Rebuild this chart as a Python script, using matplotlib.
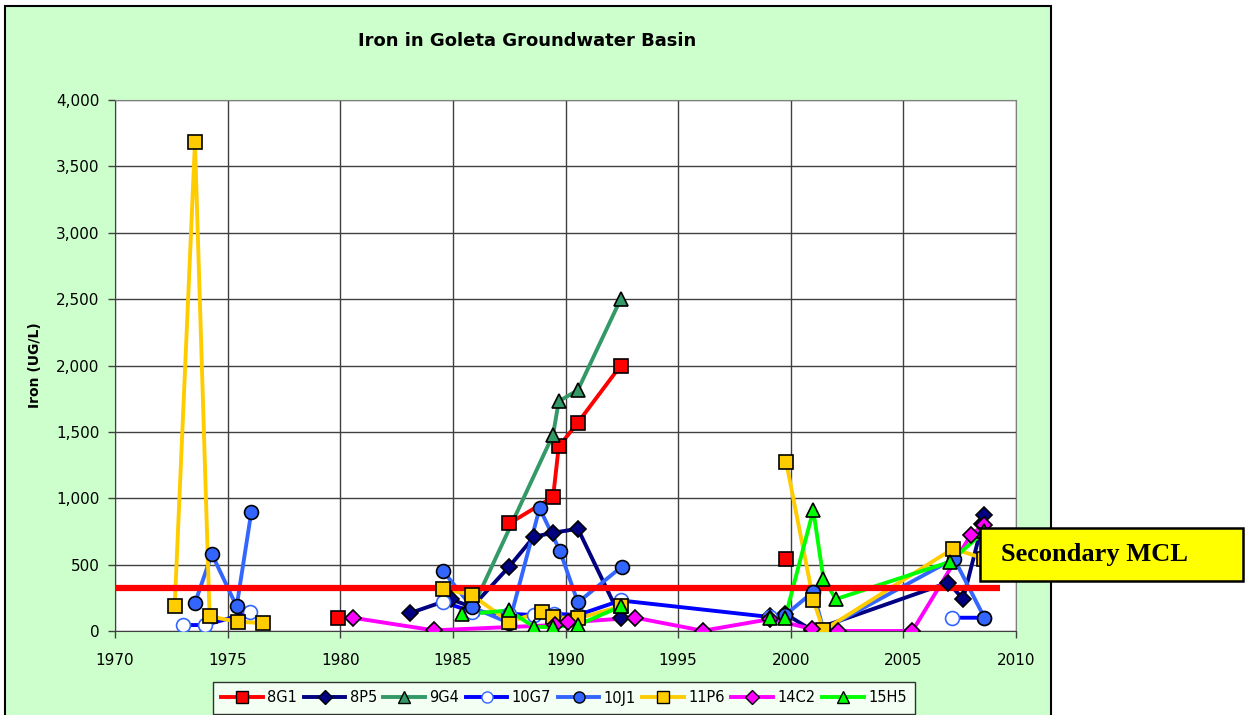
import numpy as np
import matplotlib
matplotlib.use("Agg")
import matplotlib.pyplot as plt
from matplotlib.patches import Rectangle
from matplotlib.lines import Line2D
from matplotlib.ticker import FuncFormatter

nan = np.nan

# ---------------- data (year, iron ug/L); nan = gap in series ----------------
g8G1_x = [1979.9, nan, 1987.5, 1989.45, 1989.7, 1990.55, 1992.45, nan, 1999.8]
g8G1_y = [100, nan, 810, 1010, 1390, 1570, 2000, nan, 540]

p8P5_x = [1983.1, 1984.9, 1985.85, 1987.5, 1988.6, 1989.45, 1990.55, 1992.45, nan,
          1999.1, 1999.75, 2000.95, 2007.0, 2007.65, 2008.5, 2008.6]
p8P5_y = [135, 240, 180, 485, 710, 740, 770, 100, nan,
          110, 130, 5, 365, 240, 805, 875]

g9G4_x = [1985.85, 1989.45, 1989.7, 1990.55, 1992.45]
g9G4_y = [165, 1480, 1730, 1815, 2500]

g10G7_x = [1973.0, 1974.0, 1976.0, nan, 1984.55, 1985.85, 1987.5, 1988.6, 1989.5,
           1990.55, 1992.45, 1999.1, 1999.75, nan, 2007.15, 2008.6]
g10G7_y = [45, 45, 140, nan, 220, 145, 130, 120, 130,
           120, 230, 105, 110, nan, 100, 100]

j10J1_x = [1973.55, 1974.3, 1975.4, 1976.05, nan, 1984.55, 1985.85, 1987.5, 1988.85,
           1989.75, 1990.55, 1992.5, nan, 1999.75, 2001.0, 2001.45, 2007.25, 2008.6]
j10J1_y = [210, 580, 185, 895, nan, 455, 180, 60, 925,
           605, 215, 485, nan, 120, 295, 10, 545, 100]

p11P6_x = [1972.65, 1973.55, 1974.2, 1975.45, 1976.55, nan, 1984.55, 1985.85, 1987.5,
           1988.95, 1989.45, 1990.55, 1992.45, nan, 1999.8, 2001.0, 2001.45, 2007.2, 2008.6]
p11P6_y = [185, 3680, 110, 70, 60, nan, 320, 270, 70,
           145, 105, 95, 185, nan, 1270, 235, 5, 620, 545]

c14C2_x = [1980.55, 1984.15, 1989.55, 1990.1, 1993.1, 1996.1, 1999.1, 2000.95,
           2002.1, 2005.4, 2008.0, 2008.6]
c14C2_y = [100, 5, 45, 65, 100, 2, 90, 15, 0, 0, 725, 800]

h15H5_x = [1985.4, 1987.5, 1988.6, 1989.45, 1990.55, 1992.45, nan, 1999.1, 1999.75,
           2001.0, 2001.45, 2002.0, 2007.05, 2008.6]
h15H5_y = [125, 155, 30, 30, 45, 185, nan, 100, 100, 910, 395, 240, 520, 750]

mcl_x = [1970, 2009.3]
mcl_y = [325, 325]

series_names = ["8G1", "8P5", "9G4", "10G7", "10J1", "11P6", "14C2", "15H5"]
series_x = [g8G1_x, p8P5_x, g9G4_x, g10G7_x, j10J1_x, p11P6_x, c14C2_x, h15H5_x]
series_y = [g8G1_y, p8P5_y, g9G4_y, g10G7_y, j10J1_y, p11P6_y, c14C2_y, h15H5_y]

x_ticks = [1970, 1975, 1980, 1985, 1990, 1995, 2000, 2005, 2010]
y_ticks = [0, 500, 1000, 1500, 2000, 2500, 3000, 3500, 4000]

# ---------------- styles ----------------
styles = {
    "8G1":  dict(lc="#FF0000", mk="s", mfc="#FF0000", mec="black", ms=10),
    "8P5":  dict(lc="#000080", mk="D", mfc="#000080", mec="black", ms=8.5),
    "9G4":  dict(lc="#339966", mk="^", mfc="#339966", mec="black", ms=10),
    "10G7": dict(lc="#0000FF", mk="o", mfc="white", mec="#3366FF", ms=10),
    "10J1": dict(lc="#3366FF", mk="o", mfc="#3366FF", mec="black", ms=10),
    "11P6": dict(lc="#FFCC00", mk="s", mfc="#FFCC00", mec="black", ms=10),
    "14C2": dict(lc="#FF00FF", mk="D", mfc="#FF00FF", mec="black", ms=8.5),
    "15H5": dict(lc="#00FF00", mk="^", mfc="#00FF00", mec="black", ms=10),
}

W, H = 1249, 715
fig = plt.figure(figsize=(W / 100, H / 100), dpi=100)
fig.patch.set_facecolor("white")

bg = Rectangle((5 / W, -0.02), (1051 - 5) / W, 1.02 - 6 / H,
               transform=fig.transFigure, facecolor="#CCFFCC",
               edgecolor="black", linewidth=1.5, zorder=-5)
fig.add_artist(bg)

ax = fig.add_axes([115 / W, 1 - 631 / H, (1016 - 115) / W, (631 - 100) / H])
ax.set_facecolor("white")
ax.set_xlim(1970, 2010)
ax.set_ylim(0, 4000)
ax.set_xticks(x_ticks)
ax.set_yticks(y_ticks)
ax.yaxis.set_major_formatter(FuncFormatter(lambda v, p: f"{int(v):,}"))
ax.grid(True, color="#404040", linewidth=1.0, zorder=0)
ax.set_axisbelow(True)
for side in ["top", "right"]:
    ax.spines[side].set_color("#808080")
for side in ["left", "bottom"]:
    ax.spines[side].set_color("#404040")
ax.tick_params(axis="both", direction="out", length=5, width=1, color="#404040",
               labelsize=11, labelcolor="black")
ax.tick_params(axis="x", pad=11)
ax.tick_params(axis="y", pad=6)
for lab in ax.get_xticklabels() + ax.get_yticklabels():
    lab.set_fontfamily("DejaVu Sans")

handles = []
for name, xs, ys in zip(series_names, series_x, series_y):
    st = styles[name]
    ax.plot(xs, ys, color=st["lc"], linewidth=2.8, zorder=2, solid_capstyle="round")
    ax.plot(xs, ys, linestyle="none", marker=st["mk"], markersize=st["ms"],
            markerfacecolor=st["mfc"], markeredgecolor=st["mec"],
            markeredgewidth=1.2, zorder=4)
    handles.append(Line2D([], [], color=st["lc"], linewidth=2.8, marker=st["mk"],
                          markersize=st["ms"] * 0.8, markerfacecolor=st["mfc"],
                          markeredgecolor=st["mec"], markeredgewidth=1.0))

ax.plot(mcl_x, mcl_y, color="#FF0000", linewidth=4.5, zorder=3, solid_capstyle="butt")

fig.text(527 / W, 1 - 41 / H, "Iron in Goleta Groundwater Basin",
         ha="center", va="center", fontsize=13, fontweight="bold",
         family="DejaVu Sans")
fig.text(35 / W, 1 - 365.5 / H, "Iron (UG/L)", rotation=90, ha="center",
         va="center", fontsize=10, fontweight="bold", family="DejaVu Sans")

leg = fig.legend(handles, series_names, loc="center",
                 bbox_to_anchor=(564 / W, 1 - 698 / H), ncol=8,
                 frameon=True, fancybox=False, shadow=False,
                 prop={"family": "DejaVu Sans", "size": 10.5},
                 handlelength=2.85, handletextpad=0.3, columnspacing=0.45,
                 borderpad=0.55, borderaxespad=0)
leg.get_frame().set_edgecolor("black")
leg.get_frame().set_linewidth(1.0)
leg.get_frame().set_facecolor("white")

box = Rectangle((980 / W, 1 - 581 / H), (1243 - 980) / W, (581 - 528) / H,
                transform=fig.transFigure, facecolor="#FFFF00",
                edgecolor="black", linewidth=1.8, zorder=10)
fig.add_artist(box)
fig.text(1001 / W, 1 - 555 / H, "Secondary MCL", ha="left", va="center",
         fontsize=19, fontweight="bold", family="Liberation Serif", zorder=11)

fig.savefig("out.png", dpi=100)
